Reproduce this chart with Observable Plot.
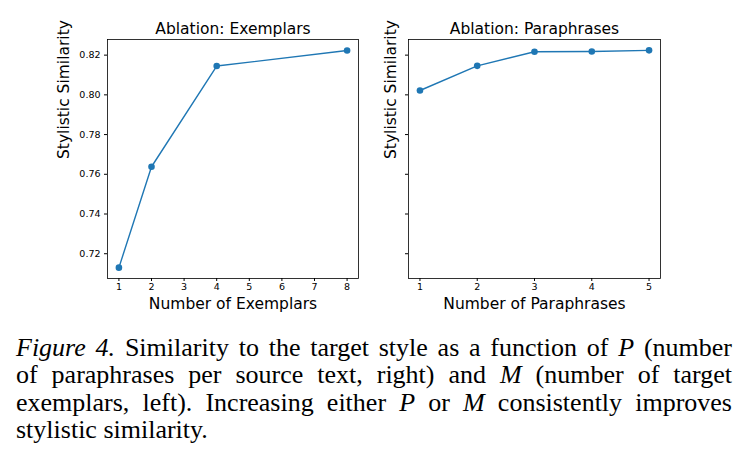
<!DOCTYPE html>
<html><head><meta charset="utf-8">
<script src="https://cdn.jsdelivr.net/npm/d3@7"></script>
<script src="https://cdn.jsdelivr.net/npm/@observablehq/plot@0.6"></script>
<style>
body{margin:0;background:#fff;width:748px;height:467px;position:relative;overflow:hidden}
#left{position:absolute;left:0;top:0}
#right{position:absolute;left:374px;top:0}
#cap{position:absolute;left:16px;top:334px;width:716px;font-family:"Liberation Serif","Times New Roman",serif;font-size:26px;line-height:27.4px;color:#000}
#cap .l{text-align:justify;text-align-last:justify;white-space:nowrap}
#cap .last{text-align:left;white-space:nowrap}
#cap i{font-style:italic}
</style>
</head><body>
<div id="left"></div><div id="right"></div>
<div id="cap">
<div class="l"><i>Figure 4.</i> Similarity to the target style as a function of <i>P</i> (number</div>
<div class="l">of paraphrases per source text, right) and <i>M</i> (number of target</div>
<div class="l">exemplars, left). Increasing either <i>P</i> or <i>M</i> consistently improves</div>
<div class="last">stylistic similarity.</div>
</div>
<script>
const exemplarCounts = [1, 2, 4, 8];
const exemplarScores = [0.713, 0.7638, 0.8145, 0.8223];
const paraphraseCounts = [1, 2, 3, 4, 5];
const paraphraseScores = [0.8022, 0.8146, 0.8217, 0.8218, 0.8224];
const exemplarTicks = [1, 2, 3, 4, 5, 6, 7, 8];
const paraphraseTicks = [1, 2, 3, 4, 5];
const yTicks = [0.72, 0.74, 0.76, 0.78, 0.80, 0.82];
const titles = ["Ablation: Exemplars", "Ablation: Paraphrases"];
const xLabels = ["Number of Exemplars", "Number of Paraphrases"];
const yLabel = "Stylistic Similarity";

const allY = exemplarScores.concat(paraphraseScores);
const yMin = d3.min(allY), yMax = d3.max(allY);
const yPad = (yMax - yMin) * 0.05;
const yDomain = [yMin - yPad, yMax + yPad];

function xDom(xs) {
  const lo = d3.min(xs), hi = d3.max(xs), p = (hi - lo) * 0.05;
  return [lo - p, hi + p];
}

function panel({xs, ys, xTicks, title, xLabel, showYLabels, marginLeft, marginRight, ylabelDx}) {
  const data = xs.map((x, i) => ({x, y: ys[i]}));
  return Plot.plot({
    width: 374, height: 320,
    marginTop: 39, marginBottom: 42, marginLeft, marginRight,
    style: {fontFamily: "DejaVu Sans", fontSize: "9px", color: "#000", background: "#fff"},
    x: {domain: xDom(xs)},
    y: {domain: yDomain},
    marks: [
      Plot.axisX({ticks: xTicks, tickSize: 3, tickPadding: 2, label: null, tickFormat: d => String(d), fontSize: 9.5}),
      Plot.axisY({ticks: yTicks, tickSize: 3, tickPadding: 4, label: null, tickFormat: showYLabels ? d3.format(".2f") : () => "", fontSize: 9.5}),
      Plot.line(data, {x: "x", y: "y", stroke: "#1f77b4", strokeWidth: 1.4}),
      Plot.dot(data, {x: "x", y: "y", r: 3.3, fill: "#1f77b4", stroke: null}),
      Plot.frame({stroke: "#000", strokeWidth: 0.8}),
      Plot.text([title], {frameAnchor: "top", dy: -10, lineAnchor: "middle", fontSize: 15.5, fill: "#000"}),
      Plot.text([xLabel], {frameAnchor: "bottom", dy: 26, lineAnchor: "middle", fontSize: 15.5, fill: "#000"}),
      Plot.text([yLabel], {frameAnchor: "left", dx: ylabelDx, rotate: -90, lineAnchor: "middle", fontSize: 15.5, fill: "#000"})
    ]
  });
}

document.getElementById("left").append(panel({
  xs: exemplarCounts, ys: exemplarScores, xTicks: exemplarTicks,
  title: titles[0], xLabel: xLabels[0], showYLabels: true,
  marginLeft: 107, marginRight: 16, ylabelDx: -43
}));
document.getElementById("right").append(panel({
  xs: paraphraseCounts, ys: paraphraseScores, xTicks: paraphraseTicks,
  title: titles[1], xLabel: xLabels[1], showYLabels: false,
  marginLeft: 34, marginRight: 88, ylabelDx: -17
}));
</script>
</body></html>
